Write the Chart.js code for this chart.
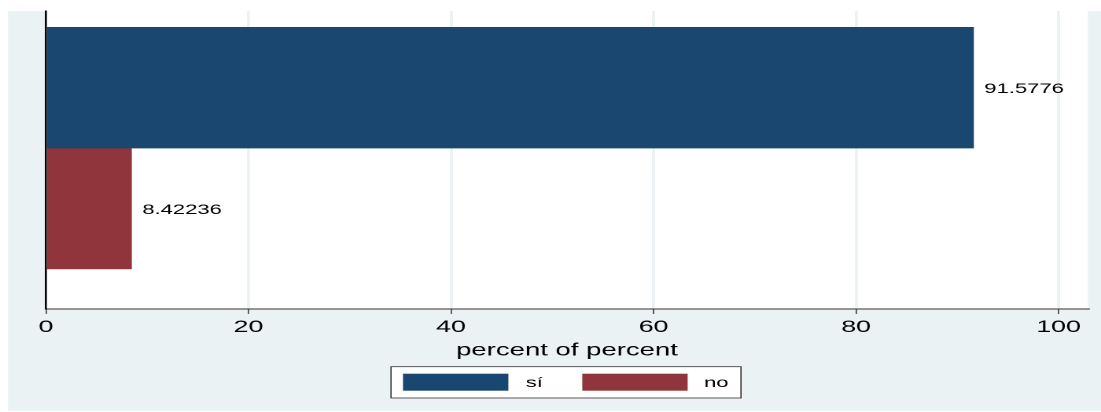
<!DOCTYPE html>
<html>
<head>
<meta charset="utf-8">
<script src="https://cdn.jsdelivr.net/npm/chart.js@4.4.1/dist/chart.umd.min.js"></script>
<style>
  html, body { margin: 0; padding: 0; background: #fff; overflow: hidden; }
  /* Stata export looks stretched sideways, so draw narrow and widen */
  #wrap { width: 700px; height: 412px; transform: scaleX(1.572857); transform-origin: 0 0; }
</style>
</head>
<body>
<div id="wrap"><canvas id="chart"></canvas></div>
<script>
// datos
const categories = ['sí', 'no'];
const percents = [91.5776, 8.42236];
const barColors = ['#1a476f', '#90353b'];
const xTicks = [0, 20, 40, 60, 80, 100];
const axisTitle = 'percent of percent';

Chart.defaults.font.family = "'Liberation Sans', Arial, sans-serif";
Chart.defaults.color = '#000';

// fondo estilo Stata + región del gráfico en blanco
const stataBackground = {
    id: 'stataBackground',
    beforeDraw(chart) {
        const { ctx, chartArea: a } = chart;
        ctx.save();
        ctx.fillStyle = '#eaf2f3';
        ctx.fillRect(5.1, 11, chart.width, 400);
        ctx.fillStyle = '#fff';
        ctx.fillRect(a.left, a.top, a.right - a.left, a.bottom - a.top);
        ctx.restore();
    }
};

// etiquetas de valor al final de cada barra
const barValues = {
    id: 'barValues',
    afterDatasetsDraw(chart) {
        const ctx = chart.ctx;
        ctx.save();
        ctx.font = "14px 'Liberation Sans', Arial, sans-serif";
        ctx.fillStyle = '#000';
        ctx.textBaseline = 'middle';
        chart.data.datasets.forEach((ds, i) => {
            const el = chart.getDatasetMeta(i).data[0];
            ctx.fillText(String(ds.data[0].x), el.x + 7, el.y + 1.5);
        });
        ctx.restore();
    }
};

// leyenda con marco, como en Stata
const boxedLegend = {
    id: 'boxedLegend',
    afterDraw(chart) {
        const ctx = chart.ctx;
        const left = 248.6, top = 366.7, w = 222.5, h = 31.3;
        const slots = [{ box: 256.2, text: 334.2 }, { box: 370.2, text: 447.6 }];
        ctx.save();
        ctx.fillStyle = '#fff';
        ctx.fillRect(left, top, w, h);
        ctx.strokeStyle = '#333';
        ctx.lineWidth = 0.8;
        ctx.strokeRect(left, top, w, h);
        ctx.font = "14px 'Liberation Sans', Arial, sans-serif";
        ctx.textBaseline = 'middle';
        chart.data.datasets.forEach((ds, i) => {
            ctx.fillStyle = ds.backgroundColor;
            ctx.fillRect(slots[i].box, 373.7, 67, 17);
            ctx.fillStyle = '#000';
            ctx.fillText(ds.label, slots[i].text, 383);
        });
        ctx.restore();
    }
};

new Chart(document.getElementById('chart'), {
    type: 'bar',
    data: {
        datasets: categories.map((c, i) => ({
            label: c,
            data: [{ x: percents[i], y: i + 1 }],
            backgroundColor: barColors[i],
            borderWidth: 0,
            grouped: false,
            categoryPercentage: 1,
            barPercentage: 1
        }))
    },
    options: {
        indexAxis: 'y',
        responsive: true,
        maintainAspectRatio: false,
        devicePixelRatio: 2,
        animation: false,
        events: [],
        layout: { padding: { left: 29.25, right: 8.3, top: 11, bottom: 50.6 } },
        plugins: { legend: { display: false }, tooltip: { enabled: false } },
        scales: {
            x: {
                type: 'linear',
                min: 0,
                max: 102.9,
                afterBuildTicks: s => { s.ticks = xTicks.map(v => ({ value: v })); },
                grid: {
                    color: c => (c.tick && c.tick.value === 0 ? 'rgba(0,0,0,0)' : '#eaf2f3'),
                    lineWidth: 1.9,
                    tickColor: '#222',
                    tickLength: 5,
                    tickWidth: 0.7
                },
                border: { color: '#333', width: 1 },
                ticks: { font: { size: 17 }, padding: 3, maxRotation: 0, autoSkip: false },
                title: { display: true, text: axisTitle, font: { size: 17.5 }, padding: { top: 0, bottom: 0 } }
            },
            y: {
                type: 'linear',
                reverse: true,
                offset: false,
                min: 0.365,
                max: 2.832,
                z: 1,
                afterBuildTicks: s => { s.ticks = categories.map((c, i) => ({ value: i + 1 })); },
                afterFit: s => { s.width = 0; },
                grid: { display: false, offset: false },
                ticks: { display: false },
                border: { color: '#000', width: 1.3 }
            }
        }
    },
    plugins: [stataBackground, barValues, boxedLegend]
});
</script>
</body>
</html>
